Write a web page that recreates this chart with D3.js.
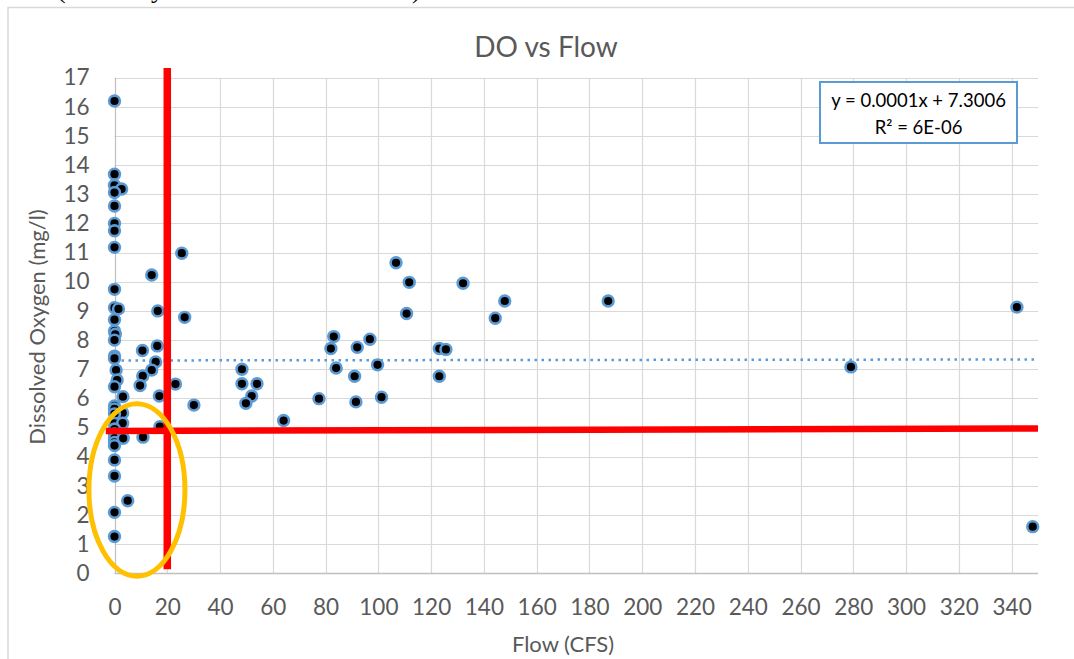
<!DOCTYPE html>
<html>
<head>
<meta charset="utf-8">
<script src="https://cdn.jsdelivr.net/npm/d3@7"></script>
<style>
  html, body { margin: 0; padding: 0; background: #fff; }
  svg { display: block; }
  text { font-family: Lato, "Open Sans", sans-serif; }
</style>
</head>
<body>
<svg id="chart" width="1074" height="659"></svg>
<script>
// ---- data ----
const chartTitle = "DO vs Flow";
const xAxisTitle = "Flow (CFS)";
const yAxisTitle = "Dissolved Oxygen (mg/l)";
const xTicks = d3.range(0, 341, 20);
const yTicks = d3.range(0, 18, 1);

const flow = [
  0, 0, 0, 2.7, 0, 0, 0, 0, 0, 25.5, 14.1, 0, 0, 1.5, 16.4, 26.6, 0, 0, 0.3, 0,
  16.2, 10.6, 0, 0, 15.6, 0.6, 14.1, 10.7, 1, 0, 9.7, 23.1, 3.2, 17, 30.1, 0, 0, 3.1, 0, 0,
  3.1, 0, 17.2, 0, 0, 0, 0, 3.3, 10.8, 0, 0, 5, 0, 0,
  106.7, 111.7, 132.1, 147.9, 187.1, 110.7, 144.3, 83.1, 96.8, 82.0, 92.0, 123.1, 125.6, 84.0, 99.7,
  48.3, 48.3, 54.0, 52.0, 49.8, 91.0, 123.1, 77.5, 91.5, 101.2, 64.1, 279.1, 342, 348
];
const dissolvedOxygen = [
  16.2, 13.69, 13.31, 13.18, 13.06, 12.6, 12.0, 11.75, 11.18, 10.98, 10.23, 9.74, 9.11, 9.07, 9.0, 8.78, 8.7, 8.31, 8.2, 8.0,
  7.8, 7.64, 7.45, 7.37, 7.25, 6.97, 6.97, 6.77, 6.63, 6.4, 6.44, 6.49, 6.06, 6.08, 5.77, 5.74, 5.64, 5.5, 5.47, 5.14,
  5.15, 4.95, 5.03, 4.78, 4.64, 4.49, 4.38, 4.63, 4.67, 3.89, 3.34, 2.49, 2.09, 1.26,
  10.65, 9.98, 9.95, 9.34, 9.34, 8.91, 8.75, 8.12, 8.03, 7.71, 7.75, 7.71, 7.68, 7.04, 7.15,
  7.0, 6.5, 6.5, 6.08, 5.83, 6.76, 6.76, 5.99, 5.88, 6.04, 5.24, 7.08, 9.13, 1.6
];

// linear trendline
const trendSlope = 0.0001;
const trendIntercept = 7.3006;
const trendLabel = ["y = 0.0001x + 7.3006", "R² = 6E-06"];

// hand-drawn annotations (data units)
const redVertical = { x: 20, y0: 0.14, y1: 17.33 };
const redHorizontal = { x0: -3.3, x1: 350, y0: 4.88, y1: 4.97 };
const orangeEllipse = { cx: 8.5, cy: 2.86, rx: 18.2, ry: 2.96 };

// ---- layout ----
const svg = d3.select("#chart");
const plot = { left: 114.5, right: 1038, top: 77.7, bottom: 573.3 };
const x = d3.scaleLinear().domain([0, 350]).range([plot.left, plot.right]);
const y = d3.scaleLinear().domain([0, 17]).range([plot.bottom, plot.top]);

// cut-off text from the page above (only its lower edge shows in the reference)
svg.append("g").attr("font-size", 26).attr("fill", "#000")
  .selectAll("text").data([["(", 57], ["y", 151], [")", 412]]).join("text")
  .attr("x", d => d[1]).attr("y", -2).style("font-family", "'Liberation Serif', serif").text(d => d[0]);

// chart border
svg.append("rect").attr("x", 8).attr("y", 7.5).attr("width", 1100).attr("height", 700)
  .attr("fill", "#fff").attr("stroke", "#d9d9d9").attr("stroke-width", 1.5);

// gridlines
const grid = svg.append("g");
grid.selectAll("line.h").data(yTicks.filter(d => d > 0)).join("line")
  .attr("x1", plot.left).attr("x2", plot.right)
  .attr("y1", d => Math.round(y(d)) + 0.5).attr("y2", d => Math.round(y(d)) + 0.5)
  .attr("stroke", "#d9d9d9").attr("stroke-width", 1.2);
grid.selectAll("line.v").data(xTicks).join("line")
  .attr("x1", d => Math.round(x(d)) + 0.5).attr("x2", d => Math.round(x(d)) + 0.5)
  .attr("y1", plot.top).attr("y2", plot.bottom)
  .attr("stroke", d => d === 0 ? "#bfbfbf" : "#d9d9d9").attr("stroke-width", 1.2);
// x axis line
svg.append("line").attr("x1", plot.left).attr("x2", plot.right)
  .attr("y1", Math.round(y(0)) + 0.5).attr("y2", Math.round(y(0)) + 0.5)
  .attr("stroke", "#bfbfbf").attr("stroke-width", 1.4);

// axes (labels only) via d3 axes
const xAxis = d3.axisBottom(x).tickValues(xTicks).tickSize(0).tickPadding(26);
const yAxis = d3.axisLeft(y).tickValues(yTicks).tickSize(0).tickPadding(25);
const gx = svg.append("g").attr("transform", `translate(0,${plot.bottom})`).call(xAxis);
const gy = svg.append("g").attr("transform", `translate(${plot.left},0)`).call(yAxis);
[gx, gy].forEach(g => {
  g.select(".domain").remove();
  g.selectAll("text").attr("fill", "#595959").attr("font-size", 22.5)
    .style("font-family", "Lato, sans-serif");
});

// title & axis titles
svg.append("text").attr("x", 546).attr("y", 57).attr("text-anchor", "middle")
  .attr("font-size", 28).attr("fill", "#595959").text(chartTitle);
svg.append("text").attr("x", 563).attr("y", 652).attr("text-anchor", "middle")
  .attr("font-size", 22).attr("fill", "#595959").text(xAxisTitle);
svg.append("text").attr("transform", "translate(45,327) rotate(-90)").attr("text-anchor", "middle")
  .attr("font-size", 22).attr("fill", "#595959").text(yAxisTitle);

// trendline
svg.append("line")
  .attr("x1", x(0)).attr("x2", x(350))
  .attr("y1", y(trendIntercept)).attr("y2", y(trendIntercept + trendSlope * 350))
  .attr("stroke", "#5b9bd5").attr("stroke-width", 2.5).attr("stroke-dasharray", "2.5,4.5");

// points
const pts = flow.map((f, i) => ({ f, o: dissolvedOxygen[i] }));
svg.append("g").selectAll("circle").data(pts).join("circle")
  .attr("cx", d => x(d.f)).attr("cy", d => y(d.o)).attr("r", 5.4)
  .attr("fill", "#000").attr("stroke", "#5b9bd5").attr("stroke-width", 2.6);

// red annotation lines
svg.append("line")
  .attr("x1", x(redVertical.x)).attr("x2", x(redVertical.x))
  .attr("y1", y(redVertical.y0)).attr("y2", y(redVertical.y1))
  .attr("stroke", "#ff0000").attr("stroke-width", 7.5);
svg.append("line")
  .attr("x1", x(redHorizontal.x0)).attr("x2", x(redHorizontal.x1))
  .attr("y1", y(redHorizontal.y0)).attr("y2", y(redHorizontal.y1))
  .attr("stroke", "#ff0000").attr("stroke-width", 6.5);

// orange ellipse
svg.append("ellipse")
  .attr("cx", x(orangeEllipse.cx)).attr("cy", y(orangeEllipse.cy))
  .attr("rx", x(orangeEllipse.rx) - x(0)).attr("ry", y(0) - y(orangeEllipse.ry))
  .attr("fill", "none").attr("stroke", "#ffc000").attr("stroke-width", 5);

// trendline label box
const box = svg.append("g");
box.append("rect").attr("x", 820).attr("y", 82).attr("width", 197).attr("height", 61)
  .attr("fill", "#fff").attr("stroke", "#5b9bd5").attr("stroke-width", 2);
box.selectAll("text").data(trendLabel).join("text")
  .attr("x", 918.5).attr("y", (d, i) => 107 + i * 27).attr("text-anchor", "middle")
  .attr("font-size", 18.5).attr("fill", "#000").text(d => d);
</script>
</body>
</html>
